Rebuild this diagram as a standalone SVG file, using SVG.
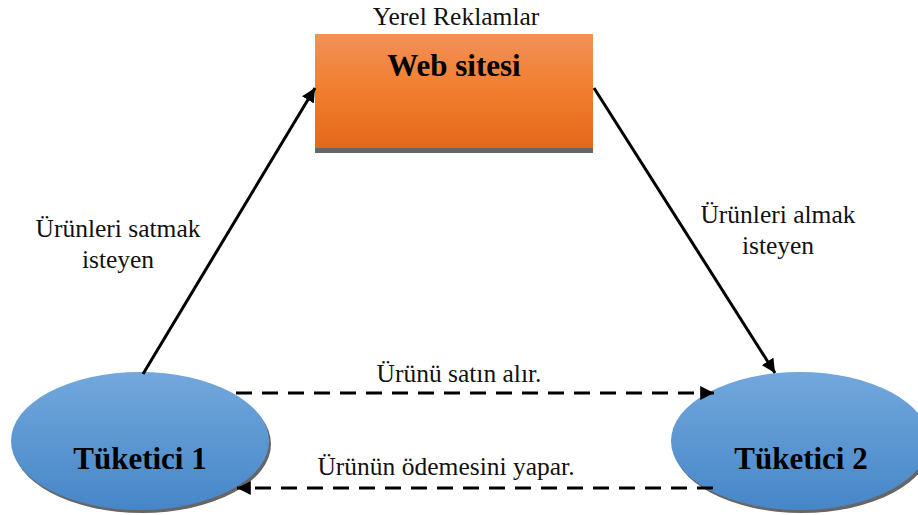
<svg xmlns="http://www.w3.org/2000/svg" width="918" height="515" viewBox="0 0 918 515">
  <style>
    .lbl { font-family: "Liberation Serif", "Times New Roman", serif; font-size: 25.5px; fill: #111; text-anchor: middle; }
    .title { font-family: "Liberation Serif", "Times New Roman", serif; font-weight: bold; font-size: 31px; fill: #000; text-anchor: middle; }
    .solid { fill: none; stroke: #000; stroke-width: 3; }
    .dash { fill: none; stroke: #000; stroke-width: 3; stroke-dasharray: 16 10; }
  </style>
  <defs>
    <linearGradient id="gOrange" x1="0" y1="0" x2="0" y2="1">
      <stop offset="0" stop-color="#F19159"/>
      <stop offset="0.5" stop-color="#F17D2C"/>
      <stop offset="1" stop-color="#E3691A"/>
    </linearGradient>
    <linearGradient id="gBlue" x1="0" y1="0" x2="0" y2="1">
      <stop offset="0" stop-color="#72A8DC"/>
      <stop offset="1" stop-color="#4686C8"/>
    </linearGradient>
    <marker id="arrow" viewBox="0 0 10 10" refX="10" refY="5" markerWidth="4.6" markerHeight="4.6" orient="auto" markerUnits="strokeWidth">
      <path d="M0,0 L10,5 L0,10 z" fill="#000"/>
    </marker>
  </defs>

  <g id="web-sitesi">
    <text class="lbl" x="456" y="25">Yerel Reklamlar</text>
    <rect x="315" y="38" width="278" height="115" fill="#666"/>
    <rect x="315" y="34" width="278" height="114" fill="url(#gOrange)"/>
    <text class="title" x="454" y="76">Web sitesi</text>
  </g>

  <g id="tuketici-1">
    <ellipse cx="142" cy="444" rx="129" ry="69" fill="#666"/>
    <ellipse cx="140" cy="441" rx="129" ry="69" fill="url(#gBlue)"/>
    <text class="title" x="140" y="469">Tüketici 1</text>
  </g>

  <g id="tuketici-2">
    <ellipse cx="802" cy="444" rx="129" ry="69" fill="#666"/>
    <ellipse cx="800" cy="441" rx="129" ry="69" fill="url(#gBlue)"/>
    <text class="title" x="801" y="469">Tüketici 2</text>
  </g>

  <g id="connectors">
    <line class="solid" x1="143" y1="374" x2="315" y2="88" marker-end="url(#arrow)"/>
    <line class="solid" x1="594" y1="88" x2="775" y2="373" marker-end="url(#arrow)"/>
    <line class="dash" x1="236" y1="393" x2="714" y2="393" marker-end="url(#arrow)"/>
    <line class="dash" x1="713" y1="488" x2="237" y2="488" marker-end="url(#arrow)"/>
    <text class="lbl" x="118" y="237">Ürünleri satmak</text>
    <text class="lbl" x="118" y="268">isteyen</text>
    <text class="lbl" x="778" y="223">Ürünleri almak</text>
    <text class="lbl" x="778" y="254">isteyen</text>
    <text class="lbl" x="459" y="382">Ürünü satın alır.</text>
    <text class="lbl" x="446" y="475">Ürünün ödemesini yapar.</text>
  </g>
</svg>
